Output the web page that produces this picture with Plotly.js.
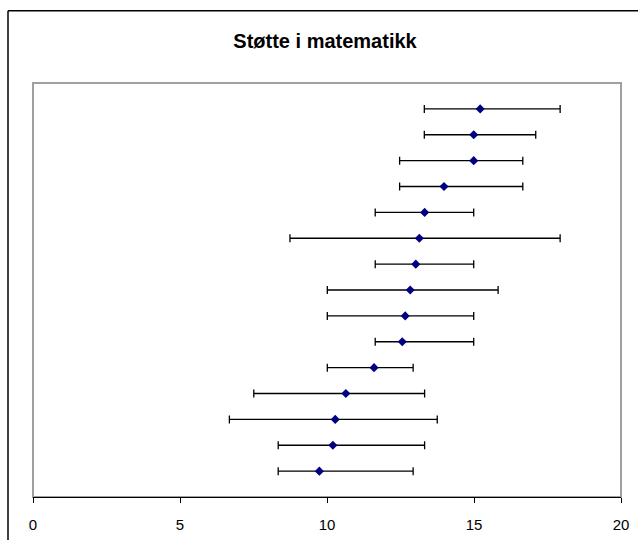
<!DOCTYPE html>
<html>
<head>
<meta charset="utf-8">
<script src="https://cdn.plot.ly/plotly-3.0.1.min.js"></script>
<style>
  html, body { margin: 0; padding: 0; background: #fff; }
  #chart { width: 638px; height: 543px; }
</style>
</head>
<body>
<div id="chart"></div>
<script>
// Rows from top (position 15) to bottom (position 1)
const rowPositions = [15, 14, 13, 12, 11, 10, 9, 8, 7, 6, 5, 4, 3, 2, 1];
const meanValues   = [15.21, 14.99, 14.99, 13.98, 13.32, 13.14, 13.02, 12.83, 12.66, 12.56, 11.60, 10.64, 10.28, 10.20, 9.74];
const lowerValues  = [13.31, 13.31, 12.47, 12.47, 11.64, 8.74, 11.64, 10.01, 10.01, 11.64, 10.01, 7.51, 6.68, 8.34, 8.34];
const upperValues  = [17.93, 17.10, 16.66, 16.66, 14.99, 17.93, 14.99, 15.82, 14.99, 14.99, 12.93, 13.32, 13.75, 13.32, 12.93];
const xTickValues  = [0, 5, 10, 15, 20];
const xTickLabels  = ['0', '5', '10', '15', '20'];
const chartTitle   = 'Støtte i matematikk';

const errPlus  = meanValues.map((m, i) => upperValues[i] - m);
const errMinus = meanValues.map((m, i) => m - lowerValues[i]);

const trace = {
  type: 'scatter',
  mode: 'markers',
  x: meanValues,
  y: rowPositions,
  marker: { symbol: 'diamond', size: 7, color: '#000080' },
  error_x: {
    type: 'data',
    symmetric: false,
    array: errPlus,
    arrayminus: errMinus,
    color: '#000000',
    thickness: 1.3,
    width: 4
  },
  hoverinfo: 'x',
  showlegend: false
};

const W = 638, H = 543;
const mL = 33, mR = 17, mT = 83, mB = 46;
const pw = W - mL - mR, ph = H - mT - mB;
const px = v => (v - mL) / pw;
const py = v => (H - mB - v) / ph;

const layout = {
  width: W,
  height: H,
  margin: { l: mL, r: mR, t: mT, b: mB, pad: 0 },
  paper_bgcolor: '#ffffff',
  plot_bgcolor: '#ffffff',
  font: { family: '"Liberation Sans", Arial, sans-serif', color: '#000000' },
  title: {
    text: '<b>' + chartTitle + '</b>',
    font: { family: '"Liberation Sans", Arial, sans-serif', size: 20, color: '#000000' },
    xref: 'container', yref: 'container',
    x: 325 / W, y: 1 - 40.5 / H,
    xanchor: 'center', yanchor: 'middle'
  },
  xaxis: {
    range: [0, 20],
    tickvals: xTickValues,
    ticktext: xTickLabels,
    showgrid: false,
    zeroline: false,
    showline: true,
    linecolor: '#000000',
    linewidth: 1.3,
    ticks: 'outside',
    ticklen: 5,
    tickwidth: 1,
    tickcolor: '#000000',
    tickfont: { size: 15, color: '#000000' },
    ticklabelstandoff: 9,
    fixedrange: true
  },
  yaxis: {
    range: [0, 16],
    showgrid: false,
    zeroline: false,
    showline: false,
    showticklabels: false,
    ticks: '',
    fixedrange: true
  },
  shapes: [
    // plot area frame (grey)
    { type: 'rect', xref: 'paper', yref: 'paper', x0: 0, x1: 1, y0: 0, y1: 1,
      line: { color: '#a0a0a0', width: 2 }, fillcolor: 'rgba(0,0,0,0)', layer: 'below' },
    // outer chart border (top and left)
    { type: 'line', xref: 'paper', yref: 'paper', x0: px(8), x1: px(700), y0: py(10.7), y1: py(10.7),
      line: { color: '#000000', width: 1.5 } },
    { type: 'line', xref: 'paper', yref: 'paper', x0: px(8), x1: px(8), y0: py(10.7), y1: py(540),
      line: { color: '#000000', width: 1.5 } }
  ]
};

Plotly.newPlot('chart', [trace], layout, { displayModeBar: false, staticPlot: true });
</script>
</body>
</html>
